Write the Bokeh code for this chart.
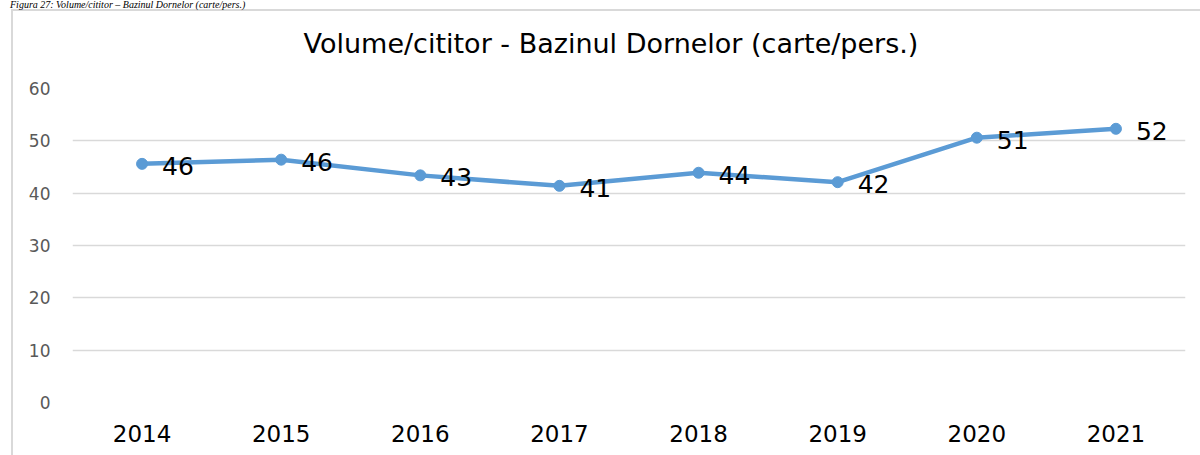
from bokeh.plotting import figure
from bokeh.layouts import column
from bokeh.models import ColumnDataSource, Range1d, FixedTicker, Div
from bokeh.core.properties import value
from bokeh.embed import file_html
from bokeh.resources import INLINE

years = ["2014", "2015", "2016", "2017", "2018", "2019", "2020", "2021"]
volumes = [45.6, 46.4, 43.4, 41.4, 43.9, 42.1, 50.6, 52.3]
labels = [f"{v:.0f}" for v in volumes]
y_ticks = [0, 10, 20, 30, 40, 50, 60]
title_text = "Volume/cititor - Bazinul Dornelor (carte/pers.)"
caption_text = "Figura 27: Volume/cititor \u2013 Bazinul Dornelor (carte/pers.)"

FONT = "DejaVu Sans"
BLUE = "#5B9BD5"
GRID = "#d9d9d9"
TOP_H = 64
MAIN_H = 455 - TOP_H

# ---- header strip: caption + chart title (HTML text) ----
top_css = (f"linear-gradient({GRID}, {GRID}) 11px 9px / 2px 200px no-repeat, "
           f"linear-gradient({GRID}, {GRID}) 11px 9px / 1200px 2px no-repeat, #ffffff")
head_html = (
    f'<div style="position:relative;width:1200px;height:{TOP_H}px;overflow:hidden;">'
    f'<div style="position:absolute;left:10px;top:0px;white-space:nowrap;'
    f'font-family:\'Liberation Serif\';font-style:italic;font-size:10px;line-height:10px;color:#000;">'
    f'{caption_text}</div>'
    f'<div style="position:absolute;left:0px;top:30px;width:1222px;text-align:center;white-space:nowrap;'
    f'font-family:\'{FONT}\';font-size:27px;line-height:27px;color:#000;">'
    f'{title_text}</div>'
    f'</div>'
)
head = Div(text=head_html, width=1200, height=TOP_H, margin=0,
           styles={"background": top_css, "padding": "0px"})

# ---- main chart ----
main_css = f"linear-gradient({GRID}, {GRID}) 11px 0px / 2px 500px no-repeat, #ffffff"
src = ColumnDataSource(dict(x=years, y=volumes, lab=labels))

p = figure(width=1200, height=MAIN_H, x_range=years, y_range=Range1d(0, 60),
           output_backend="svg", toolbar_location=None, margin=0,
           min_border_left=72, min_border_right=15, min_border_top=88 - TOP_H,
           min_border_bottom=53, styles={"background": main_css})
p.x_range.range_padding = 0
p.outline_line_color = None
p.background_fill_color = None
p.border_fill_color = None

p.line("x", "y", source=src, line_color=BLUE, line_width=4.5)
p.scatter("x", "y", source=src, size=11, fill_color=BLUE, line_color=BLUE)
p.text("x", "y", text="lab", source=src, x_offset=20, y_offset=2,
       text_align="left", text_baseline="middle", text_font=value(FONT),
       text_font_size="25px", text_color="#000000")

p.yaxis.ticker = FixedTicker(ticks=y_ticks)
p.yaxis.axis_line_color = None
p.yaxis.major_tick_line_color = None
p.yaxis.major_tick_out = 0
p.yaxis.minor_tick_line_color = None
p.yaxis.major_label_text_font = FONT
p.yaxis.major_label_text_font_size = "17px"
p.yaxis.major_label_text_color = "#595959"
p.yaxis.major_label_standoff = 22

p.xaxis.axis_line_color = None
p.xaxis.major_tick_line_color = None
p.xaxis.major_tick_out = 0
p.xaxis.major_label_text_font = FONT
p.xaxis.major_label_text_font_size = "23px"
p.xaxis.major_label_text_color = "#000000"
p.xaxis.major_label_standoff = 22

p.xgrid.grid_line_color = None
p.ygrid.grid_line_color = GRID
p.ygrid.grid_line_width = 1.5

layout = column(head, p, spacing=0, margin=0)
open("out.html", "w").write(file_html(layout, INLINE))
